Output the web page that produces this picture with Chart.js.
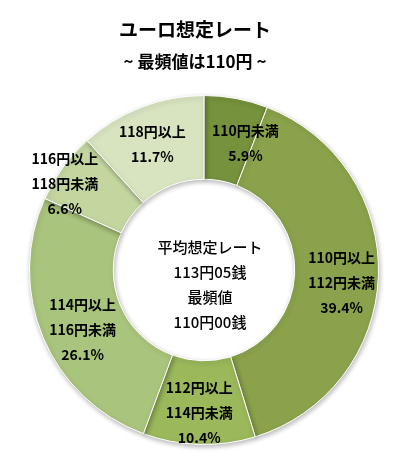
<!DOCTYPE html>
<html>
<head>
<meta charset="utf-8">
<script src="https://cdn.jsdelivr.net/npm/chart.js@4"></script>
<style>
  html, body { margin: 0; padding: 0; background: #fff; }
  #wrap { width: 393px; height: 474px; position: relative; }
</style>
</head>
<body>
<div id="wrap"><canvas id="chart" width="393" height="474"></canvas></div>
<script>
const titleLines = ["ユーロ想定レート", "~ 最頻値は110円 ~"];
const categories = [
  ["110円未満"],
  ["110円以上", "112円未満"],
  ["112円以上", "114円未満"],
  ["114円以上", "116円未満"],
  ["116円以上", "118円未満"],
  ["118円以上"]
];
const shares = [5.9, 39.4, 10.4, 26.1, 6.6, 11.7];
const centerLines = ["平均想定レート", "113円05銭", "最頻値", "110円00銭"];

const sliceColors = ["#76923c", "#8aa24b", "#9bb85b", "#a9c47c", "#c3d6a0", "#d8e4c0"];
// small nudges so the labels sit where the original placed them
const labelNudge = [[17, 4], [5, 8], [-1, 10], [1, 8], [-32, -8], [-4, -2]];

const FONT = "'Noto Sans CJK JP', 'Noto Sans', sans-serif";

const ringShadow = {
  id: "ringShadow",
  beforeDatasetDraw(chart) {
    const ctx = chart.ctx;
    ctx.save();
    ctx.shadowColor = "rgba(0, 0, 0, 0.28)";
    ctx.shadowBlur = 5;
    ctx.shadowOffsetX = 1;
    ctx.shadowOffsetY = 2;
  },
  afterDatasetDraw(chart) {
    chart.ctx.restore();
  }
};

const textLayer = {
  id: "textLayer",
  afterDraw(chart) {
    const ctx = chart.ctx;
    ctx.save();
    ctx.fillStyle = "#000";
    ctx.textAlign = "center";
    ctx.textBaseline = "middle";

    ctx.font = `bold 19px ${FONT}`;
    ctx.fillText(titleLines[0], 195, 30);
    ctx.font = `bold 17px ${FONT}`;
    ctx.fillText(titleLines[1], 195, 62);

    const meta = chart.getDatasetMeta(0);
    ctx.font = `bold 14px ${FONT}`;
    meta.data.forEach((arc, i) => {
      const p = arc.getProps(["x", "y", "startAngle", "endAngle", "innerRadius", "outerRadius"], true);
      const mid = (p.startAngle + p.endAngle) / 2;
      const r = (p.innerRadius + p.outerRadius) / 2;
      const cx = p.x + Math.cos(mid) * r + labelNudge[i][0];
      const cy = p.y + Math.sin(mid) * r + labelNudge[i][1];
      const lines = [...categories[i], shares[i].toFixed(1) + "%"];
      const lh = 25;
      const top = cy - (lines.length - 1) * lh / 2;
      lines.forEach((t, k) => ctx.fillText(t, cx, top + k * lh));
    });

    const c = meta.data[0];
    ctx.font = `500 15px ${FONT}`;
    const lh = 25;
    const cy0 = c.y + 15 - (centerLines.length - 1) * lh / 2;
    centerLines.forEach((t, k) => ctx.fillText(t, c.x + 6, cy0 + k * lh));
    ctx.restore();
  }
};

new Chart(document.getElementById("chart").getContext("2d"), {
  type: "doughnut",
  data: {
    labels: categories.map(c => c.join("")),
    datasets: [{
      data: shares,
      backgroundColor: sliceColors,
      borderColor: "#ffffff",
      borderWidth: 1
    }]
  },
  options: {
    responsive: false,
    animation: false,
    cutout: "52%",
    rotation: 0,
    layout: { padding: { left: 29, right: 14, top: 93, bottom: 27 } },
    plugins: {
      legend: { display: false },
      title: { display: false },
      tooltip: { enabled: false }
    }
  },
  plugins: [ringShadow, textLayer]
});
</script>
</body>
</html>
